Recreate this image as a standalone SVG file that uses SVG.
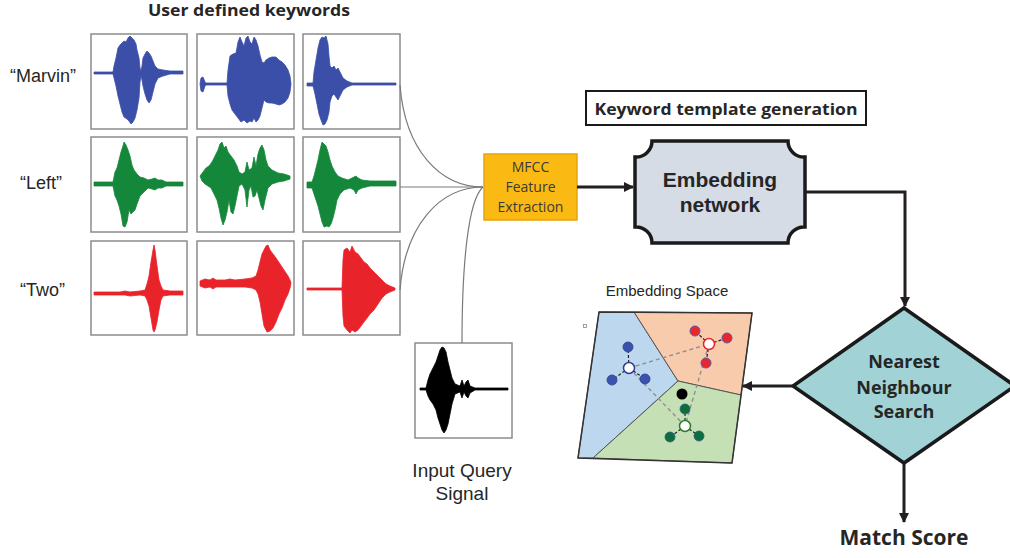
<svg xmlns="http://www.w3.org/2000/svg" width="1010" height="558" viewBox="0 0 1010 558">
  <style>
    .bold { font-family: "Open Sans", "Noto Sans", sans-serif; font-weight: 700; fill: #262626; }
    .reg { font-family: "Open Sans", "Noto Sans", sans-serif; fill: #3a3a3a; }
    .arial { font-family: "Liberation Sans", Arial, sans-serif; fill: #262626; }
    .wbox { fill: #ffffff; stroke: #8c8c8c; stroke-width: 1.5; }
    .blue { fill: #3b4ea8; stroke: #3b4ea8; stroke-width: 0.8; stroke-linejoin: round; }
    .green { fill: #15873a; stroke: #15873a; stroke-width: 0.8; stroke-linejoin: round; }
    .red { fill: #e8232a; stroke: #e8232a; stroke-width: 0.8; stroke-linejoin: round; }
    .black { fill: #000000; stroke: #000000; stroke-width: 0.8; stroke-linejoin: round; }
    .feed { fill: none; stroke: #7a7a7a; stroke-width: 1.2; }
    .flow { fill: none; stroke: #231f20; stroke-width: 3; }
    .region { stroke: #555555; stroke-width: 1; }
    .dash { fill: none; stroke: #8f8f8f; stroke-width: 1.4; stroke-dasharray: 4 3; }
    .spoke { fill: none; stroke: #222222; stroke-width: 1.2; stroke-dasharray: 3 2; }
  </style>
  <defs>
    <marker id="arrow" viewBox="0 0 10 10" refX="9" refY="5" markerUnits="userSpaceOnUse" markerWidth="10" markerHeight="10" orient="auto">
      <path d="M0,0 L10,5 L0,10 z" fill="#231f20"/>
    </marker>
  </defs>

  <rect width="1010" height="558" fill="#ffffff"/>

  <!-- keyword recordings -->
  <g id="keywords">
    <text class="bold" x="249" y="16" font-size="16" text-anchor="middle" textLength="202" lengthAdjust="spacingAndGlyphs">User defined keywords</text>
    <text class="arial" x="10" y="82" font-size="18">“Marvin”</text>
    <text class="arial" x="20" y="189" font-size="18">“Left”</text>
    <text class="arial" x="20" y="296" font-size="18">“Two”</text>

    <rect class="wbox" x="91" y="34" width="96" height="95"/>
    <rect class="wbox" x="197" y="34" width="97" height="95"/>
    <rect class="wbox" x="303" y="34" width="97" height="95"/>
    <rect class="wbox" x="91" y="137" width="96" height="95"/>
    <rect class="wbox" x="197" y="137" width="97" height="95"/>
    <rect class="wbox" x="303" y="137" width="97" height="95"/>
    <rect class="wbox" x="91" y="241" width="96" height="94"/>
    <rect class="wbox" x="197" y="241" width="97" height="94"/>
    <rect class="wbox" x="303" y="241" width="97" height="94"/>

    <!-- Marvin -->
    <path class="blue" d="M94,72 H113 L114,66 L116,58 L118,48 L120,45 L122,43 L124,41 L126,42 L128,38 L130,36 L132,38 L134,40 L136,44 L137,50 L139,58 L140,68 L141,71 L142,66 L143,58 L145,54 L147,51 L149,53 L151,56 L153,61 L155,66 L158,69 L163,70 L170,71 H183 V74 H170 L163,76 L158,78 L155,84 L153,92 L151,100 L149,103 L147,100 L145,94 L143,86 L142,80 L141,76 L140,82 L139,98 L137,110 L135,118 L133,122 L131,124 L129,121 L127,119 L124,117 L122,112 L120,104 L118,96 L116,86 L114,78 L113,74 H94 Z"/>
    <path class="blue" d="M200,84 L201,78 L203,77 L205,82 L206,83 H227 L228,70 L230,56 L233,54 L236,53 L238,42 L240,37 L242,42 L244,46 L246,38 L248,36 L250,42 L252,44 L254,37 L256,40 L258,46 L260,55 L262,62 L264,63 L266,60 L269,58 L272,57 L276,57 L279,60 L282,62 L285,65 L288,70 L290,76 L291,84 L290,92 L288,98 L285,102 L282,104 L279,105 L276,104 L272,103 L269,103 L266,102 L264,100 L262,108 L260,116 L258,120 L256,122 L254,118 L252,122 L250,121 L247,123 L244,120 L241,122 L238,118 L235,114 L232,110 L230,104 L228,96 L227,85 H206 L205,86 L203,92 L201,91 Z"/>
    <path class="blue" d="M307,83 H313 L314,72 L316,60 L318,48 L320,40 L322,37 L324,38 L326,36 L328,44 L329,56 L330,66 L332,68 L334,66 L336,70 L338,68 L340,72 L343,78 L347,81 L352,83 H396 V85 H352 L347,87 L343,90 L340,96 L338,100 L336,97 L334,94 L332,96 L330,102 L329,112 L327,120 L325,124 L323,125 L321,120 L319,114 L317,104 L315,94 L313,86 H307 Z"/>

    <!-- Left -->
    <path class="green" d="M94,182 H113 L115,172 L117,168 L119,160 L121,152 L123,146 L124,142 L126,145 L128,150 L130,156 L132,165 L134,170 L137,174 L140,177 L144,178 L148,180 L152,179 L155,178 L158,180 L162,180 L166,182 H183 V186 H166 L162,188 L158,188 L155,190 L152,189 L148,188 L144,192 L140,196 L137,204 L135,210 L133,212 L131,214 L129,210 L127,222 L125,227 L123,226 L121,214 L119,206 L117,200 L115,196 L113,186 H94 Z"/>
    <path class="green" d="M200,176 L203,172 L206,168 L209,166 L212,162 L215,156 L218,150 L220,144 L222,142 L224,148 L226,146 L228,152 L231,156 L234,160 L237,166 L239,172 L242,174 L245,172 L247,162 L249,170 L252,168 L254,157 L256,166 L258,154 L260,148 L262,145 L264,150 L266,160 L268,166 L272,170 L278,173 L284,174 L290,176 L290,179 L284,181 L278,182 L272,184 L268,188 L265,200 L263,210 L261,206 L259,198 L257,190 L255,196 L253,197 L251,186 L249,190 L247,207 L245,190 L242,184 L239,186 L237,196 L235,206 L233,214 L231,212 L229,200 L227,212 L225,220 L223,225 L221,218 L219,208 L217,200 L214,194 L211,188 L208,186 L205,184 L202,181 Z"/>
    <path class="green" d="M307,182 H312 L314,176 L316,168 L318,160 L320,150 L322,142 L324,144 L326,146 L328,152 L330,160 L332,166 L335,172 L338,176 L342,178 L348,180 L352,178 L356,176 L358,178 L362,180 L370,181 H396 V186 H370 L362,188 L358,190 L356,194 L354,190 L350,188 L344,190 L340,194 L337,200 L335,210 L333,218 L331,224 L329,227 L327,226 L324,227 L322,222 L320,214 L318,206 L316,200 L314,194 L312,188 H307 Z"/>

    <!-- Two -->
    <path class="red" d="M94,292 H120 L125,291 L130,292 L140,291 L145,290 L147,284 L149,276 L151,262 L153,250 L154,245 L155,250 L157,266 L159,280 L161,286 L163,290 L170,291 H183 V295 H170 L163,296 L161,300 L159,310 L157,322 L155,330 L154,332 L153,330 L151,318 L149,306 L147,300 L145,296 L140,295 L130,296 L125,295 L120,295 H94 Z"/>
    <path class="red" d="M200,281 L205,279 L210,280 L213,278 L216,280 L225,280 L230,279 L235,280 L245,279 L252,278 L256,276 L258,270 L260,262 L262,254 L264,250 L266,246 L268,245 L270,250 L273,254 L276,258 L280,264 L284,270 L288,276 L290,280 L291,283 L290,288 L288,294 L285,300 L282,308 L279,314 L276,322 L273,328 L270,331 L267,332 L264,326 L262,314 L260,302 L258,294 L256,290 L252,288 L245,287 L235,287 L225,287 L216,287 L213,289 L210,287 L205,288 L200,286 Z"/>
    <path class="red" d="M307,288 H342 L343,260 L344,250 L347,248 L350,252 L352,246 L355,252 L358,254 L361,258 L364,262 L367,264 L370,268 L374,272 L378,276 L382,280 L386,284 L390,286 L395,288 V290 L390,292 L386,294 L382,298 L378,304 L374,310 L370,314 L367,318 L364,322 L361,326 L358,330 L355,332 L352,330 L350,333 L347,330 L344,326 L343,316 L342,290 H307 Z"/>
  </g>

  <!-- query recording -->
  <g id="query">
    <rect class="wbox" x="415" y="343" width="97" height="95"/>
    <path class="black" d="M420,388 H426 L428,380 L430,374 L433,368 L436,362 L438,356 L440,350 L442,347 L444,348 L446,352 L448,362 L450,370 L452,378 L455,384 L460,386 L462,380 L464,386 L466,382 L468,380 L470,386 L475,388 H508 V390 H475 L470,393 L468,398 L466,396 L464,392 L462,398 L460,392 L455,394 L452,404 L450,414 L448,424 L446,430 L444,433 L442,430 L440,424 L438,418 L436,410 L433,404 L430,400 L428,396 L426,390 H420 Z"/>
    <text class="arial" x="462" y="477" font-size="19" text-anchor="middle">Input Query</text>
    <text class="arial" x="462" y="500" font-size="19" text-anchor="middle">Signal</text>
  </g>

  <g id="mfcc">
    <rect x="484" y="154" width="93" height="66" fill="#fbb913" stroke="#e5a50a" stroke-width="1.5"/>
    <text class="reg" x="530.5" y="172" font-size="14" text-anchor="middle">MFCC</text>
    <text class="reg" x="530.5" y="192" font-size="14" text-anchor="middle">Feature</text>
    <text class="reg" x="530.5" y="212" font-size="14" text-anchor="middle">Extraction</text>
  </g>

  <g id="template-label">
    <rect x="586" y="91" width="280" height="34" fill="#ffffff" stroke="#1a1a1a" stroke-width="2"/>
    <text class="bold" x="726" y="115" font-size="16.5" text-anchor="middle" textLength="263" lengthAdjust="spacingAndGlyphs">Keyword template generation</text>
  </g>

  <g id="embedding-network">
    <path d="M652,141 H788 A16,16 0 0 0 805,157 V227 A16,16 0 0 0 788,243 H652 A16,16 0 0 0 635,227 V157 A16,16 0 0 0 652,141 Z" fill="#d6dce5" stroke="#1a1a1a" stroke-width="3.5"/>
    <text class="arial" x="720" y="187" font-size="21" font-weight="700" text-anchor="middle" fill="#333333">Embedding</text>
    <text class="arial" x="720" y="212" font-size="21" font-weight="700" text-anchor="middle" fill="#333333">network</text>
  </g>

  <g id="nearest-neighbour">
    <path d="M904,308 L1015,386 L904,463 L793,386 Z" fill="#a1d3d6" stroke="#1a1a1a" stroke-width="3.5" stroke-linejoin="miter"/>
    <text class="bold" x="904" y="368" font-size="18" text-anchor="middle" fill="#333333">Nearest</text>
    <text class="bold" x="904" y="394" font-size="18" text-anchor="middle" fill="#333333">Neighbour</text>
    <text class="bold" x="904" y="418" font-size="18" text-anchor="middle" fill="#333333">Search</text>
  </g>

  <g id="match-score">
    <text class="bold" x="904" y="545" font-size="21" text-anchor="middle">Match Score</text>
  </g>

  <g id="embedding-space">
    <text class="arial" x="667" y="296" font-size="15" text-anchor="middle">Embedding Space</text>
    <rect x="583.5" y="324.5" width="3" height="3" fill="#ffffff" stroke="#888888" stroke-width="0.8"/>
    <polygon class="region" points="599,312 634,312 678,381 593,458 578,458" fill="#bdd7ee"/>
    <polygon class="region" points="634,312 752,313 741,395 678,381" fill="#f8cbad"/>
    <polygon class="region" points="678,381 741,395 732,463 593,458" fill="#c5e0b4"/>
    <polygon points="599,312 752,313 732,463 578,458" fill="none" stroke="#333333" stroke-width="1.5"/>

    <!-- distances between class centroids -->
    <path class="dash" d="M629,368 L709,344 M629,368 L685,426 M709,344 L685,426"/>

    <!-- spokes from centroids to samples -->
    <path class="spoke" d="M629,368 L628,347 M629,368 L612,380 M629,368 L645,379"/>
    <path class="spoke" d="M709,344 L695,331 M709,344 L727,338 M709,344 L706,363"/>
    <path class="spoke" d="M685,426 L685,409 M685,426 L670,437 M685,426 L699,436"/>

    <g fill="#3a53ad" stroke="#2d3f8f" stroke-width="0.8">
      <circle cx="628" cy="347" r="5"/>
      <circle cx="612" cy="380" r="5"/>
      <circle cx="645" cy="379" r="5"/>
    </g>
    <g fill="#e8262b" stroke="#5a5aa8" stroke-width="1">
      <circle cx="695" cy="331" r="5"/>
      <circle cx="727" cy="338" r="5"/>
      <circle cx="706" cy="363" r="5"/>
    </g>
    <g fill="#0d6e3a" stroke="#2d5a8f" stroke-width="0.8">
      <circle cx="685" cy="409" r="5"/>
      <circle cx="670" cy="437" r="5"/>
      <circle cx="699" cy="436" r="5"/>
    </g>
    <circle cx="629" cy="368" r="5.5" fill="#ffffff" stroke="#2d3f8f" stroke-width="1.5"/>
    <circle cx="709" cy="344" r="5.5" fill="#ffffff" stroke="#e8262b" stroke-width="1.5"/>
    <circle cx="685" cy="426" r="5.5" fill="#ffffff" stroke="#2f7a2f" stroke-width="1.5"/>
    <circle cx="682" cy="394" r="5.5" fill="#000000"/>
  </g>

  <g id="connectors">
    <path class="feed" d="M400,85 C405,150 440,187 483,187"/>
    <path class="feed" d="M400,187 L483,187"/>
    <path class="feed" d="M400,290 C405,225 440,187 483,187"/>
    <path class="feed" d="M462,343 C462,265 468,200 483,187"/>
    <path class="flow" d="M577,187 H633" marker-end="url(#arrow)"/>
    <path class="flow" d="M805,192 H905 V306" marker-end="url(#arrow)"/>
    <path class="flow" d="M793,386 H743" marker-end="url(#arrow)"/>
    <path class="flow" d="M904,463 V522" marker-end="url(#arrow)"/>
  </g>
</svg>
